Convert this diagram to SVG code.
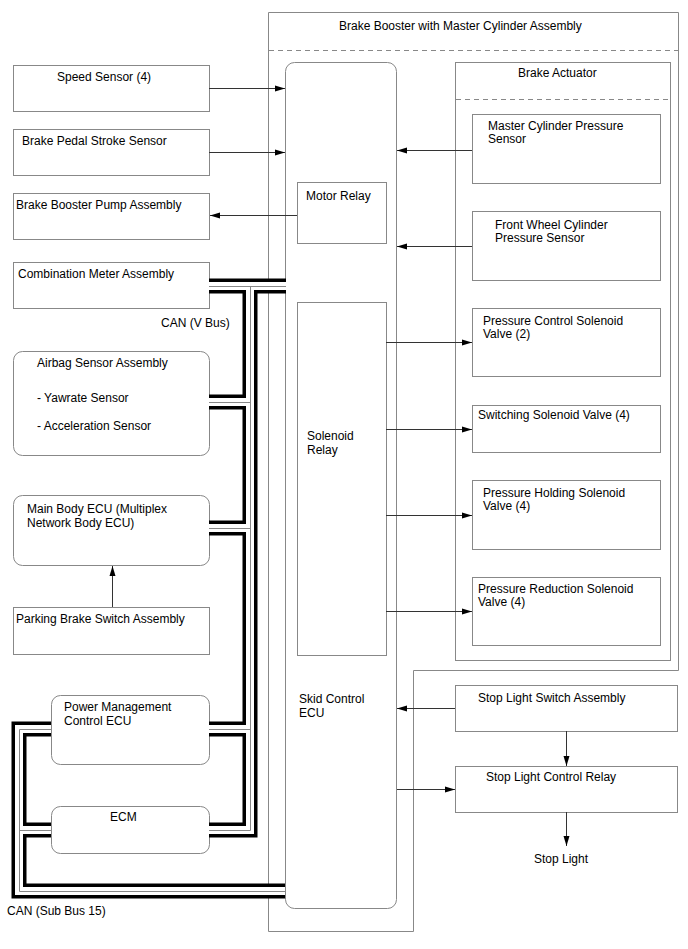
<svg xmlns="http://www.w3.org/2000/svg" width="688" height="949" viewBox="0 0 688 949">
<style>
.box{fill:#fff;stroke:#888;stroke-width:1}
.frame{fill:none;stroke:#888;stroke-width:1}
.dash{fill:none;stroke:#888;stroke-width:1;stroke-dasharray:5,4}
.t{font-family:"Liberation Sans",Arial,sans-serif;font-size:12px;fill:#000}
.arrow{fill:none;stroke:#333;stroke-width:1;marker-end:url(#ah)}
</style>
<defs>
<marker id="ah" viewBox="0 0 10 8" refX="10" refY="4" markerWidth="10" markerHeight="8" markerUnits="userSpaceOnUse" orient="auto">
<path d="M0,1 L10,4 L0,7 Z" fill="#000"/>
</marker>
</defs>
<rect width="688" height="949" fill="#fff"/>

<g id="brake-booster">
<path class="frame" d="M268.5,12.5 H678.5 V670.5 H413.5 V931.5 H268.5 Z"/>
<line class="dash" x1="269" y1="50.5" x2="678" y2="50.5"/>
<text class="t" x="339" y="30">Brake Booster with Master Cylinder Assembly</text>
</g>

<g id="skid-control-ecu">
<rect class="box" x="285.5" y="62.5" width="111" height="846" rx="9"/>
<text class="t" x="299" y="703">Skid Control</text>
<text class="t" x="299" y="717">ECU</text>
</g>
<g id="motor-relay">
<rect class="box" x="297.5" y="182.5" width="89" height="61"/>
<text class="t" x="306" y="200">Motor Relay</text>
</g>
<g id="solenoid-relay">
<rect class="box" x="297.5" y="302.5" width="89" height="353"/>
<text class="t" x="307" y="440">Solenoid</text>
<text class="t" x="307" y="454">Relay</text>
</g>

<g id="brake-actuator">
<rect class="box" x="455.5" y="62.5" width="215" height="598"/>
<line class="dash" x1="456" y1="99.5" x2="670" y2="99.5"/>
<text class="t" x="518" y="77">Brake Actuator</text>
</g>
<g id="master-cylinder-pressure-sensor">
<rect class="box" x="472.5" y="114.5" width="188" height="69"/>
<text class="t" x="488" y="130">Master Cylinder Pressure</text>
<text class="t" x="488" y="143">Sensor</text>
</g>
<g id="front-wheel-cylinder-pressure-sensor">
<rect class="box" x="472.5" y="211.5" width="188" height="69"/>
<text class="t" x="495" y="229">Front Wheel Cylinder</text>
<text class="t" x="495" y="242">Pressure Sensor</text>
</g>
<g id="pressure-control-solenoid-valve">
<rect class="box" x="472.5" y="308.5" width="188" height="68"/>
<text class="t" x="483" y="325">Pressure Control Solenoid</text>
<text class="t" x="483" y="338">Valve (2)</text>
</g>
<g id="switching-solenoid-valve">
<rect class="box" x="472.5" y="405.5" width="188" height="47"/>
<text class="t" x="478" y="419">Switching Solenoid Valve (4)</text>
</g>
<g id="pressure-holding-solenoid-valve">
<rect class="box" x="472.5" y="480.5" width="188" height="69"/>
<text class="t" x="483" y="497">Pressure Holding Solenoid</text>
<text class="t" x="483" y="510">Valve (4)</text>
</g>
<g id="pressure-reduction-solenoid-valve">
<rect class="box" x="472.5" y="577.5" width="188" height="68"/>
<text class="t" x="478" y="593">Pressure Reduction Solenoid</text>
<text class="t" x="478" y="606">Valve (4)</text>
</g>

<g id="speed-sensor">
<rect class="box" x="13.5" y="65.5" width="196" height="46"/>
<text class="t" x="57" y="81">Speed Sensor (4)</text>
</g>
<g id="brake-pedal-stroke-sensor">
<rect class="box" x="13.5" y="129.5" width="196" height="46"/>
<text class="t" x="22" y="145">Brake Pedal Stroke Sensor</text>
</g>
<g id="brake-booster-pump-assembly">
<rect class="box" x="13.5" y="193.5" width="196" height="46"/>
<text class="t" x="16" y="209">Brake Booster Pump Assembly</text>
</g>
<g id="combination-meter-assembly">
<rect class="box" x="13.5" y="262.5" width="196" height="46"/>
<text class="t" x="18" y="278">Combination Meter Assembly</text>
</g>
<g id="airbag-sensor-assembly">
<rect class="box" x="13.5" y="351.5" width="196" height="104" rx="9"/>
<text class="t" x="37" y="367">Airbag Sensor Assembly</text>
<text class="t" x="37" y="402">- Yawrate Sensor</text>
<text class="t" x="37" y="430">- Acceleration Sensor</text>
</g>
<g id="main-body-ecu">
<rect class="box" x="13.5" y="495.5" width="196" height="70" rx="9"/>
<text class="t" x="27" y="513">Main Body ECU (Multiplex</text>
<text class="t" x="27" y="527">Network Body ECU)</text>
</g>
<g id="parking-brake-switch-assembly">
<rect class="box" x="13.5" y="607.5" width="196" height="47"/>
<text class="t" x="16" y="623">Parking Brake Switch Assembly</text>
</g>
<g id="power-management-control-ecu">
<rect class="box" x="51.5" y="695.5" width="158" height="69" rx="9"/>
<text class="t" x="64" y="711">Power Management</text>
<text class="t" x="64" y="725">Control ECU</text>
</g>
<g id="ecm">
<rect class="box" x="51.5" y="806.5" width="158" height="47" rx="9"/>
<text class="t" x="110" y="821">ECM</text>
</g>
<g id="stop-light-switch-assembly">
<rect class="box" x="455.5" y="685.5" width="222" height="46"/>
<text class="t" x="478" y="702">Stop Light Switch Assembly</text>
</g>
<g id="stop-light-control-relay">
<rect class="box" x="455.5" y="766.5" width="222" height="46"/>
<text class="t" x="486" y="781">Stop Light Control Relay</text>
</g>
<g id="stop-light">
<text class="t" x="534" y="863">Stop Light</text>
</g>

<g id="connectors">
<path class="arrow" d="M209,88.5 H285"/>
<path class="arrow" d="M209,152.5 H285"/>
<path class="arrow" d="M297,215.5 H210"/>
<path class="arrow" d="M472,150.5 H397"/>
<path class="arrow" d="M472,246.5 H397"/>
<path class="arrow" d="M386,342.5 H472"/>
<path class="arrow" d="M386,429.5 H472"/>
<path class="arrow" d="M386,515.5 H472"/>
<path class="arrow" d="M386,611.5 H472"/>
<path class="arrow" d="M455,708.5 H397"/>
<path class="arrow" d="M397,789.5 H455"/>
<path class="arrow" d="M566.5,731 V766"/>
<path class="arrow" d="M566.5,812 V846"/>
<path class="arrow" d="M112.5,607 V566"/>
</g>

<g id="can-buses" fill="none" stroke-linecap="butt" stroke-linejoin="miter">
<g stroke="#000" stroke-width="15">
<path d="M209,286 H286"/>
<path d="M250,286 V830 H209"/>
<path d="M209,402 H250"/>
<path d="M209,528 H250"/>
<path d="M209,729 H250"/>
<path d="M51,729 H19 V891 H285"/>
<path d="M19,830 H51"/>
</g>
<g stroke="#fff" stroke-width="8">
<path d="M209,286 H286"/>
<path d="M250,286 V830 H209"/>
<path d="M209,402 H250"/>
<path d="M209,528 H250"/>
<path d="M209,729 H250"/>
<path d="M51,729 H19 V891 H285"/>
<path d="M19,830 H51"/>
</g>
<g stroke="#888" stroke-width="1">
<path d="M209,286.5 H286"/>
<path d="M250.5,286 V830.5 H209"/>
<path d="M209,402.5 H250"/>
<path d="M209,528.5 H250"/>
<path d="M209,729.5 H250"/>
<path d="M51,729.5 H19.5 V891.5 H285"/>
<path d="M19,830.5 H51"/>
</g>
<text class="t" x="161" y="327">CAN (V Bus)</text>
<text class="t" x="7" y="915">CAN (Sub Bus 15)</text>
</g>
</svg>
